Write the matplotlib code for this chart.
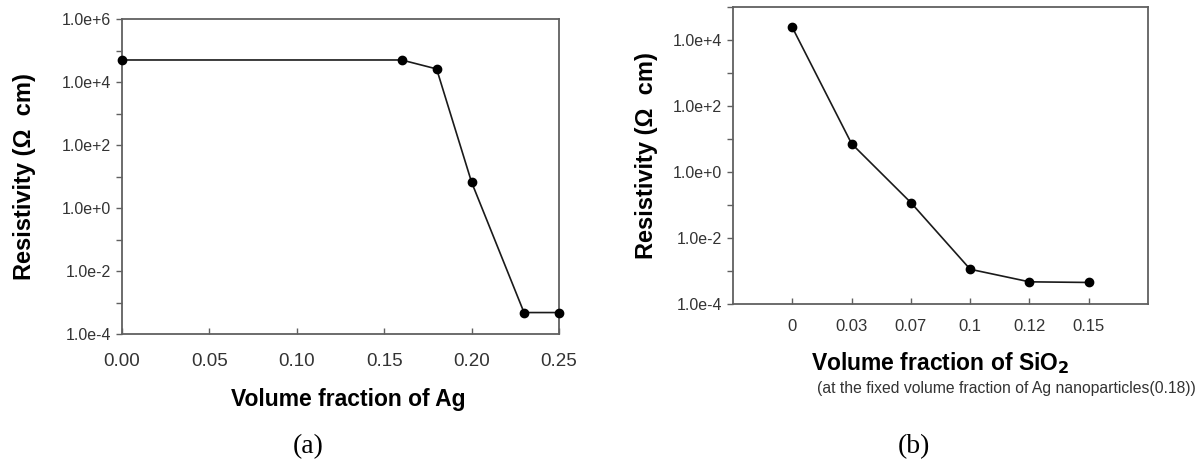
import math
import matplotlib
matplotlib.use("Agg")
import matplotlib.pyplot as plt
from matplotlib.ticker import FixedLocator, FuncFormatter, NullLocator

plt.rcParams['font.family'] = ['Liberation Sans', 'DejaVu Sans']

# (a) resistivity vs Ag volume fraction
ag_frac = [0.0, 0.16, 0.18, 0.20, 0.23, 0.25]
ag_res = [5.0e4, 5.0e4, 2.6e4, 6.6, 4.8e-4, 4.8e-4]
ag_ticks = [0.00, 0.05, 0.10, 0.15, 0.20, 0.25]

# (b) resistivity vs SiO2 volume fraction (Ag fixed at 0.18)
sio2_labels = ['0', '0.03', '0.07', '0.1', '0.12', '0.15']
sio2_res = [2.4e4, 7.2, 0.118, 1.13e-3, 4.7e-4, 4.5e-4]

line_col = '#1a1a1a'
spine_col = '#606060'
tick_col = '#333333'


def dec_label(v, pos):
    # label only the even decades, odd ones stay as bare ticks
    e = int(round(math.log10(v)))
    if e % 2:
        return ''
    return '1.0e%+d' % e


def style_axes(ax, lo, hi):
    ax.set_yscale('log')
    ax.set_ylim(10.0 ** lo, 10.0 ** hi)
    ax.yaxis.set_major_locator(FixedLocator([10.0 ** e for e in range(lo, hi + 1)]))
    ax.yaxis.set_minor_locator(NullLocator())
    ax.yaxis.set_major_formatter(FuncFormatter(dec_label))
    for s in ax.spines.values():
        s.set_color(spine_col)
        s.set_linewidth(1.3)
    ax.tick_params(axis='y', direction='out', length=4, width=1, color=spine_col,
                   labelsize=11.5, labelcolor=tick_col, pad=4)
    ax.tick_params(axis='x', direction='in', length=4, width=1, color=spine_col,
                   labelsize=13.5, labelcolor=tick_col, pad=14)


fig = plt.figure(figsize=(11.98, 4.68), dpi=100)

ax1 = fig.add_axes([0.1018, 0.2863, 0.3648, 0.6731])
ax1.plot(ag_frac, ag_res, color=line_col, lw=1.2, marker='o', ms=6,
         mfc='black', mec='black', clip_on=False, zorder=3)
style_axes(ax1, -4, 6)
ax1.set_xlim(0, 0.25)
ax1.set_xticks(ag_ticks)
ax1.set_xticklabels(['%.2f' % t for t in ag_ticks])
ax1.set_ylabel('Resistivity (\u03a9  cm)', fontsize=17, fontweight='bold')
ax1.yaxis.set_label_coords(-0.197, 0.5)
ax1.set_xlabel('Volume fraction of Ag', fontsize=16.5, fontweight='bold')
ax1.xaxis.set_label_coords(0.517, -0.17)

ax2 = fig.add_axes([0.6119, 0.3504, 0.3464, 0.6346])
pos = list(range(len(sio2_labels)))
ax2.plot(pos, sio2_res, color=line_col, lw=1.2, marker='o', ms=6,
         mfc='black', mec='black', clip_on=False, zorder=3)
style_axes(ax2, -4, 5)
ax2.tick_params(axis='x', labelsize=12, pad=11)
ax2.set_xlim(-1, len(sio2_labels))
ax2.set_xticks(pos)
ax2.set_xticklabels(sio2_labels)
ax2.set_ylabel('Resistivity (\u03a9  cm)', fontsize=17, fontweight='bold')
ax2.yaxis.set_label_coords(-0.181, 0.5)
ax2.set_xlabel('Volume fraction of SiO$_\\mathbf{2}$', fontsize=16.5, fontweight='bold')
ax2.xaxis.set_label_coords(0.499, -0.155)

fig.text(1196 / 1198, 1 - 389 / 468,
         '(at the fixed volume fraction of Ag nanoparticles(0.18))',
         ha='right', va='center', fontsize=11.3, color=tick_col)

fig.text(308 / 1198, 1 - 447 / 468, '(a)', ha='center', va='center', fontsize=20,
         family='Liberation Serif')
fig.text(914 / 1198, 1 - 447 / 468, '(b)', ha='center', va='center', fontsize=20,
         family='Liberation Serif')

fig.savefig('out.png', dpi=100)
